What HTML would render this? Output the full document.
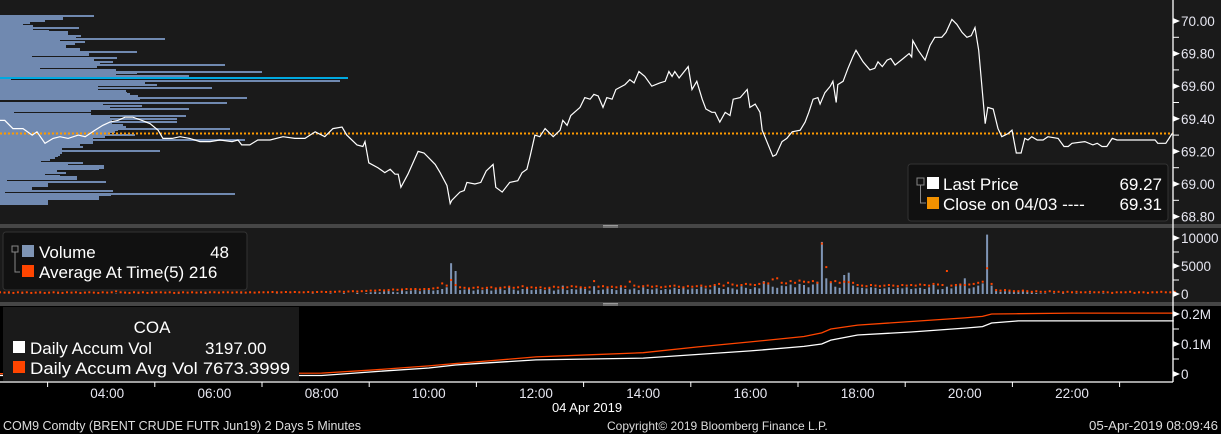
<!DOCTYPE html>
<html><head><meta charset="utf-8"><style>
body{margin:0;background:#000;width:1221px;height:434px;overflow:hidden}
svg{display:block;font-family:"Liberation Sans",sans-serif}
</style></head><body>
<svg id="c" width="1221" height="434" xmlns="http://www.w3.org/2000/svg">
<rect x="0" y="0" width="1221" height="224" fill="#1a1a1a"/>
<rect x="0" y="224" width="1221" height="4" fill="#464646"/>
<rect x="0" y="228" width="1221" height="74" fill="#1a1a1a"/>
<rect x="0" y="302" width="1221" height="4" fill="#464646"/>
<rect x="0" y="306" width="1221" height="128" fill="#000"/>
<g id="profile" shape-rendering="crispEdges"></g>
<g id="vol"></g>
<g id="acc"></g>
<g id="price"></g>
<g id="axes"></g>

<g>
<rect x="908" y="164" width="260" height="57" rx="3" fill="#111" stroke="#333"/>
<rect x="917" y="178" width="7" height="7" fill="none" stroke="#888"/>
<path d="M920.5 185 V203 H926" stroke="#888" fill="none"/>
<rect x="927" y="177" width="12" height="12" fill="#fff"/>
<text x="943" y="190" font-size="17" fill="#fff">Last Price</text>
<text x="1162" y="190" font-size="17" fill="#fff" text-anchor="end">69.27</text>
<rect x="927" y="197" width="12" height="12" fill="#f39200"/>
<text x="943" y="210" font-size="17" fill="#fff">Close on 04/03 ---- </text>
<text x="1162" y="210" font-size="17" fill="#fff" text-anchor="end">69.31</text>
</g>
<g>
<rect x="3" y="232" width="244" height="58" rx="3" fill="#111" stroke="#333"/>
<rect x="12" y="246" width="6" height="6" fill="none" stroke="#888"/>
<path d="M15 252 V272 H20" stroke="#888" fill="none"/>
<rect x="22" y="245" width="12" height="12" fill="#7f95b5"/>
<text x="39" y="258" font-size="17" fill="#fff">Volume</text>
<text x="229" y="258" font-size="17" fill="#fff" text-anchor="end">48</text>
<rect x="22" y="265" width="12" height="12" fill="#ff4500"/>
<text x="39" y="278" font-size="17" fill="#fff">Average At Time(5) 216</text>
</g>
<g>
<rect x="3" y="307" width="296" height="74" fill="#1a1a1a"/>
<text x="152" y="333" font-size="17" fill="#fff" text-anchor="middle">COA</text>
<rect x="13" y="341" width="12" height="12" fill="#fff"/>
<text x="30" y="354" font-size="17" fill="#fff">Daily Accum Vol</text>
<text x="205" y="354" font-size="17" fill="#fff">3197.00</text>
<rect x="13" y="361" width="12" height="12" fill="#ff4500"/>
<text x="30" y="374" font-size="17" fill="#fff" textLength="260" lengthAdjust="spacingAndGlyphs">Daily Accum Avg Vol 7673.3999</text>
</g>
<text x="587" y="412" font-size="13" fill="#fff" text-anchor="middle">04 Apr 2019</text>
<text x="3" y="430" font-size="12.5" fill="#ddd" textLength="358" lengthAdjust="spacingAndGlyphs">COM9 Comdty (BRENT CRUDE FUTR  Jun19) 2 Days 5 Minutes</text>
<text x="607" y="430" font-size="12" fill="#ddd">Copyright© 2019 Bloomberg Finance L.P.</text>
<text x="1218" y="430" font-size="12.5" fill="#ddd" text-anchor="end" textLength="129" lengthAdjust="spacingAndGlyphs">05-Apr-2019 08:09:46</text>
</svg>
<script>
const priceTimes=[2.00,2.09,2.24,2.43,2.60,2.69,2.84,2.99,3.12,3.27,3.46,3.59,3.77,3.92,4.05,4.20,4.33,4.48,4.65,4.80,4.95,5.04,5.21,5.36,5.54,5.73,5.92,6.10,6.33,6.44,6.51,6.66,6.81,7.04,7.28,7.50,7.69,7.88,8.06,8.21,8.38,8.47,8.66,8.77,8.81,8.88,9.05,9.18,9.28,9.37,9.43,9.48,9.61,9.80,9.91,10.12,10.21,10.34,10.40,10.43,10.58,10.66,10.71,10.86,10.97,11.07,11.20,11.25,11.37,11.51,11.66,11.74,11.83,11.89,11.98,12.07,12.17,12.32,12.45,12.50,12.58,12.65,12.82,12.91,13.01,13.08,13.16,13.25,13.32,13.42,13.49,13.66,13.75,13.83,13.92,14.03,14.16,14.31,14.41,14.48,14.54,14.59,14.67,14.84,14.91,15.00,15.10,15.17,15.28,15.34,15.43,15.53,15.62,15.68,15.81,15.94,15.99,16.09,16.18,16.22,16.42,16.48,16.59,16.68,16.78,16.93,17.02,17.09,17.17,17.26,17.30,17.39,17.49,17.54,17.60,17.63,17.73,17.82,17.91,17.97,18.10,18.23,18.32,18.38,18.46,18.55,18.62,18.70,18.85,18.96,19.01,19.03,19.13,19.26,19.35,19.44,19.57,19.65,19.76,19.85,19.95,20.04,20.12,20.19,20.26,20.38,20.43,20.53,20.62,20.69,20.81,20.88,20.96,21.05,21.12,21.18,21.25,21.35,21.46,21.55,21.74,21.85,21.93,22.00,22.24,22.39,22.47,22.56,22.65,22.75,22.84,23.55,23.60,23.75,23.87];
const priceValues=[69.39,69.39,69.34,69.34,69.30,69.32,69.25,69.28,69.29,69.28,69.30,69.29,69.33,69.36,69.38,69.39,69.41,69.41,69.39,69.37,69.33,69.28,69.28,69.29,69.28,69.26,69.26,69.27,69.26,69.27,69.24,69.24,69.27,69.27,69.29,69.28,69.28,69.32,69.29,69.34,69.35,69.30,69.24,69.23,69.26,69.13,69.10,69.07,69.09,69.06,69.06,68.98,69.06,69.20,69.19,69.12,69.07,68.99,68.88,68.90,68.95,68.96,69.01,69.00,69.01,69.08,69.12,68.98,68.95,69.01,69.02,69.07,69.09,69.17,69.30,69.29,69.34,69.29,69.33,69.39,69.36,69.42,69.47,69.53,69.52,69.55,69.54,69.47,69.53,69.52,69.58,69.61,69.64,69.62,69.69,69.66,69.60,69.62,69.63,69.69,69.66,69.69,69.65,69.72,69.58,69.63,69.52,69.46,69.44,69.44,69.38,69.44,69.42,69.52,69.53,69.58,69.47,69.49,69.44,69.33,69.17,69.18,69.26,69.28,69.32,69.33,69.38,69.44,69.52,69.53,69.49,69.56,69.60,69.63,69.50,69.61,69.63,69.71,69.78,69.82,69.75,69.70,69.71,69.75,69.72,69.76,69.77,69.73,69.77,69.80,69.78,69.88,69.82,69.76,69.85,69.90,69.90,69.93,70.01,69.98,69.93,69.90,69.91,69.96,69.82,69.37,69.47,69.46,69.34,69.29,69.31,69.33,69.19,69.19,69.28,69.27,69.29,69.27,69.27,69.29,69.28,69.23,69.23,69.25,69.26,69.24,69.25,69.23,69.23,69.28,69.27,69.27,69.25,69.25,69.31];
const prevClose=69.31;
const priceTicks=[70.00,69.80,69.60,69.40,69.20,69.00,68.80];
const profileTop=70.03;
const profileVolumes=[94,63,63,45,30,23,33,79,33,49,68,68,81,76,165,60,85,75,66,66,80,80,137,89,89,32,117,94,113,100,225,97,40,116,262,137,116,189,348,11,340,145,157,98,212,98,126,127,130,138,247,140,0,227,103,142,110,189,91,14,91,186,110,177,112,177,112,123,126,230,118,115,108,135,105,93,245,93,93,80,83,62,62,160,62,60,58,55,50,41,83,68,104,104,99,57,66,45,60,77,77,7,106,48,48,32,32,113,5,235,111,99,99,48,48,48];
const volumeStartHour=2;
const volumeValues=[0,0,50,0,0,60,0,0,0,40,0,0, 0,50,0,0,0,0,60,0,0,0,0,0, 0,0,80,0,0,0,0,50,0,0,0,0, 0,0,0,0,60,0,0,0,0,0,70,0, 0,0,0,0,0,0,50,0,0,0,0,0, 0,0,60,0,0,0,0,0,0,0,80,0, 0,0,100,0,0,150,0,0,200,0,150,300, 400,300,500,600,400,300,700,500,600,900,500,700, 800,600,700,900,1200,5500,4100,700,800,900,600,800, 700,900,600,800,1000,700,1200,800,600,900,1000,700, 800,900,700,1000,600,800,1500,700,900,800,1100,900, 600,1400,700,800,1000,900,700,1200,900,800,1000,700, 1200,900,800,1000,700,900,800,1100,900,1200,800,1000, 900,1300,1000,800,1500,1100,900,1200,1000,800,1400,1100, 900,1200,1000,2300,1700,1300,1100,1500,1400,1700,1200,1800, 1600,1200,1700,2200,9300,2800,2000,1300,1100,3400,3800,1500, 1200,1100,1000,1200,1100,900,1000,1200,900,1100,1000,1200, 900,1000,1100,900,1200,1600,800,900,1300,1000,1400,1700, 2800,1000,1200,1500,1900,10600,1500,600,400,500,700,400, 600,700,400,300,200,100,100,0,100,0,100,0, 0,100,0,0,100,0,0,100,0,0,0,0, 0,0,0,0,0,0,0,0,0,0,0,0];
const avgValues=[300,250,300,200,300,250,300,200,250,300,200,250, 300,250,200,300,250,300,200,250,300,250,200,300, 250,300,500,300,250,200,300,250,300,200,250,300, 300,250,300,200,250,300,250,300,250,300,250,300, 300,250,300,300,250,300,300,250,300,250,300,300, 300,350,300,300,350,300,350,300,300,350,300,350, 400,350,400,400,450,400,450,500,450,500,550,600, 600,700,650,700,800,750,800,900,850,900,800,900, 900,1000,1100,1900,1500,2500,1600,1200,1100,1000,1100,1200, 1000,1100,1200,1000,1100,1200,1300,1100,1200,1400,1100,1200, 1100,1200,1000,1100,1300,1200,1100,1200,1400,1300,1200,1100, 1200,2300,1300,1400,1200,1300,1200,1400,1300,2200,1500,1300, 1400,1500,1300,1400,1200,1300,1400,1500,1300,1200,1400,1300, 1400,1500,1300,1400,1600,1800,1500,2000,1700,1500,1600,1800, 1700,1600,1800,2000,1900,2600,2800,2000,1900,2300,2000,2400, 2200,2100,2300,2000,9000,4800,2100,2300,2000,2200,2100,2000, 1600,1500,1400,1600,1500,1400,1500,1600,1500,1400,1600,1500, 1600,1500,1700,1600,1500,1800,1700,1600,4100,1500,1600,1700, 1600,1700,1800,2000,2200,4600,1800,700,600,700,600,500, 500,600,500,400,500,400,400,500,400,400,300,400, 300,400,300,300,400,300,300,400,300,200,300,300, 300,400,200,300,300,200,300,300,400,300,300,400];
const volTicks=[10000,5000,0];
const accumHours=[2,8,9,10,10.5,11,12,13,14,15,16,17,17.33,17.5,18,19,20,20.33,20.5,21,22,23.9];
const accumVol=[-5,-5,8,20,30,36,47,50,53,65,77,92,100,113,130,140,153,158,170,177,177,177];
const accumAvgVol=[1,3,14,27,35,42,57,64,71,90,107,125,137,150,163,175,187,192,200,201,203,203];
const accumTicks=[200,100,0];
const accumTickLabels=["0.2M","0.1M","0"];
const hourLabels=["04:00","06:00","08:00","10:00","12:00","14:00","16:00","18:00","20:00","22:00"];
const labelHours=[4,6,8,10,12,14,16,18,20,22];

const NS="http://www.w3.org/2000/svg";
const AX=1173;
function mk(tag,attrs,parent){const e=document.createElementNS(NS,tag);for(const k in attrs)e.setAttribute(k,attrs[k]);parent.appendChild(e);return e;}
const xS=h=>(h-2)*53.6;
const yP=v=>21+(70-v)*163;
const yV=v=>294-v*0.0056;
const yA=v=>374-v*0.3;

const prof=document.getElementById('profile');
profileVolumes.forEach((w,i)=>{if(!w)return;const y=yP(profileTop-i*0.01);
 const r=mk('rect',{x:0,y:Math.round(y-1),width:w,height:2,fill:(w===348?'#00a9e0':'#7089b0')},prof);
 
 });

const pc=mk('line',{x1:0,x2:AX,y1:yP(prevClose),y2:yP(prevClose),stroke:'#ff9a00','stroke-width':2,'stroke-dasharray':'2 2'},document.getElementById('price'));


const pl=mk('polyline',{points:priceTimes.map((t,i)=>xS(t).toFixed(1)+','+yP(priceValues[i]).toFixed(1)).join(' '),fill:'none',stroke:'#fff','stroke-width':1.2},document.getElementById('price'));



const vg=document.getElementById('vol');
volumeValues.forEach((v,i)=>{const x=xS(volumeStartHour+i/12);
 if(v>0){const b=mk('rect',{x:(x-1).toFixed(1),y:yV(v).toFixed(1),width:2,height:(294-yV(v)).toFixed(1),fill:'#7f95b5'},vg);
 
 }
 const a=avgValues[i];
 const d=mk('rect',{x:(x-1).toFixed(1),y:(yV(a)-1).toFixed(1),width:2,height:2,fill:'#ff4500'},vg);
 
 });

const ag=document.getElementById('acc');
const l1=mk('polyline',{points:accumHours.map((h,i)=>xS(h).toFixed(1)+','+yA(accumAvgVol[i]).toFixed(1)).join(' '),fill:'none',stroke:'#ff4500','stroke-width':1.3},ag);


const l2=mk('polyline',{points:accumHours.map((h,i)=>xS(h).toFixed(1)+','+yA(accumVol[i]).toFixed(1)).join(' '),fill:'none',stroke:'#fff','stroke-width':1.3},ag);



const ax=document.getElementById('axes');
mk('line',{x1:AX,x2:AX,y1:0,y2:382,stroke:'#fff','stroke-width':1.3},ax);
mk('line',{x1:0,x2:AX,y1:382,y2:382,stroke:'#fff','stroke-width':1.3},ax);
function yTicks(vals,labels,f,step,lo,hi){
 vals.forEach((v,i)=>{const y=f(v);
  mk('path',{d:`M${AX} ${y-3}L${AX+7} ${y}L${AX} ${y+3}Z`,fill:'#fff'},ax);
  const t=mk('text',{x:AX+8,y:y+5,'font-size':13.5,fill:'#e6e6f0'},ax);t.textContent=labels[i];
  
  });
 for(let v=lo;v<=hi+1e-9;v+=step){const y=f(v);mk('line',{x1:AX,x2:AX+6,y1:y,y2:y,stroke:'#fff'},ax);}
}
yTicks(priceTicks,priceTicks.map(v=>v.toFixed(2)),yP,0.1,68.8,70.0);
yTicks(volTicks,volTicks.map(String),yV,2500,0,10000);
yTicks(accumTicks,accumTickLabels,yA,50,0,200);
labelHours.forEach((h,i)=>{const t=mk('text',{x:xS(h),y:398,'font-size':13.5,fill:'#e6e6f0','text-anchor':'middle'},ax);t.textContent=hourLabels[i];
 
 });
for(let h=3;h<=23;h+=2){const x=xS(h)-6;mk('line',{x1:x,x2:x,y1:382,y2:387,stroke:'#fff'},ax);}
[224,302].forEach(y=>{mk('line',{x1:603,x2:618,y1:y+1.5,y2:y+1.5,stroke:'#999'},ax);mk('line',{x1:603,x2:618,y1:y+3,y2:y+3,stroke:'#999'},ax);});
</script>
</body></html>
